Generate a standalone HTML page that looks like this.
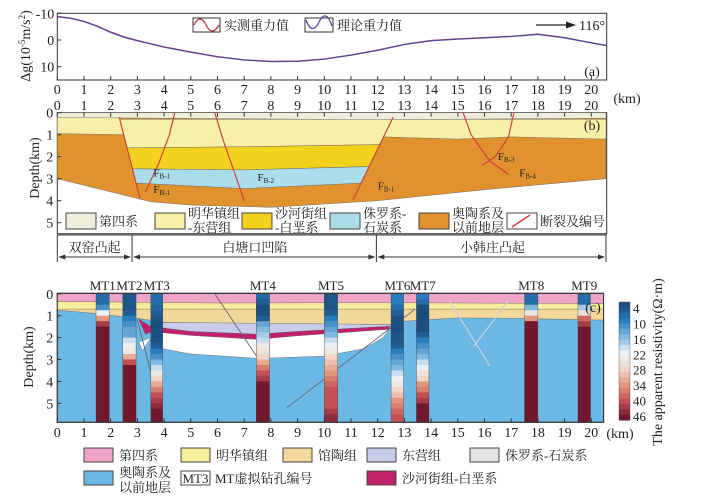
<!DOCTYPE html>
<html><head><meta charset="utf-8"><style>
body{margin:0;background:#fff;width:716px;height:496px;overflow:hidden}
svg{display:block}
text{font-family:"Liberation Serif","Noto Serif CJK SC",serif;fill:#222}
</style></head><body>
<svg id="fig" width="716" height="496" viewBox="0 0 716 496" xmlns="http://www.w3.org/2000/svg"></svg>
<script>
// ---- data ----
const gravKm = [0,0.5,1,1.5,2,2.5,3,4,5,6,7,8,9,10,11,12,13,14,15,16,17,18,19,20,20.55];
const gravObs = [-8.8,-8.2,-7,-5.2,-3,-1.2,0.2,2.6,4.5,6.2,7.4,8,7.9,7.1,5.6,3.8,1.6,0.2,-0.4,-0.9,-1.4,-2.2,-0.9,1,2];
const gravCalc = [-8.7,-8.1,-6.9,-5.1,-2.8,-1,0.3,2.7,4.6,6.3,7.5,8.1,8,7.2,5.7,3.9,1.7,0.3,-0.3,-0.8,-1.3,-2.1,-0.8,1.1,2.1];
const gravTicks = [-10,0,10];
const kmTicks = [0,1,2,3,4,5,6,7,8,9,10,11,12,13,14,15,16,17,18,19,20];
const depthTicks = [0,1,2,3,4,5];
const mtNames = ["MT1","MT2","MT3","MT4","MT5","MT6","MT7","MT8","MT9"];
const mtStart = [1.45,2.45,3.5,7.45,10.0,12.5,13.45,17.5,19.5];
const mtEnd = [1.95,2.95,3.95,7.95,10.5,12.97,13.92,18.0,19.97];
const mtDepths = [0,0.25,0.5,0.75,1,1.25,1.5,1.75,2,2.25,2.5,2.75,3,3.25,3.5,3.75,4,4.25,4.5,4.75,5,5.25,5.5];
const mtRes = [
 [8,8,12,22,34,42,46,46,46,46,46,46,46,46,46,46,46,46,46,46,46,46,46],
 [5,5,5,6,10,12,14,14,20,22,24,32,40,46,46,46,46,46,46,46,46,46,46],
 [8,8,7,6,5,4,4,4,5,6,10,12,16,20,24,28,32,36,40,42,44,46,46],
 [8,6,4,4,6,14,16,18,20,24,26,28,32,36,40,42,46,46,46,46,46,46,46],
 [5,5,5,6,10,12,14,16,20,22,24,28,30,32,34,36,38,40,40,40,40,42,44],
 [10,10,8,6,4,4,4,5,5,6,10,12,14,16,20,22,24,28,30,34,36,38,40],
 [10,8,4,4,4,4,4,6,10,12,14,16,20,22,26,28,34,36,40,42,46,46,46],
 [8,8,16,24,34,46,46,46,46,46,46,46,46,46,46,46,46,46,46,46,46,46,46],
 [8,8,18,26,38,42,46,46,46,46,46,46,46,46,46,46,46,46,46,46,46,46,46]
];
const cbTicks = [4,10,16,22,28,34,40,46];
// ---- scales ----
const X0=57.3, KM=26.7;
const xs = k => X0 + k*KM;
const ya = v => 40 + v*2.67;
const yb = d => 112.7 + d*22;
const yc = d => 293.8 + d*21.9;
const svg = document.getElementById('fig');
const NS='http://www.w3.org/2000/svg';
function mk(tag, attrs, parent){const e=document.createElementNS(NS,tag);for(const k in attrs)e.setAttribute(k,attrs[k]);(parent||svg).appendChild(e);return e;}
function txt(x,y,s,size,anchor,fill,parent){const t=mk('text',{x:x,y:y,'font-size':size||13,'text-anchor':anchor||'middle'},parent);if(fill)t.setAttribute('fill',fill);t.textContent=s;return t;}
function poly(pts,ys,fill,name){const p=mk('polygon',{points:pts.map(q=>xs(q[0]).toFixed(1)+','+ys(q[1]).toFixed(1)).join(' '),fill:fill,stroke:'#555','stroke-width':0.4});

return p;}
function cmap(v){const st=[[4,[28,78,128]],[10,[40,125,190]],[16,[130,185,225]],[22,[235,240,244]],[28,[240,214,200]],[34,[228,150,125]],[40,[195,80,85]],[46,[112,24,45]]];
for(let i=0;i<st.length-1;i++){if(v<=st[i+1][0]){const t=(v-st[i][0])/(st[i+1][0]-st[i][0]);const a=st[i][1],b=st[i+1][1];return 'rgb('+a.map((c,j)=>Math.round(c+(b[j]-c)*Math.max(0,t))).join(',')+')';}}return 'rgb(112,24,45)';}

// ===== Panel (a) =====
const ga = mk('g',{});  
mk('rect',{x:X0,y:13.3,width:606.7-X0,height:80-13.3,fill:'#fff',stroke:'#333','stroke-width':1},ga);
function gline(arr,color,name){const l=mk('polyline',{points:gravKm.map((k,i)=>xs(k).toFixed(1)+','+ya(arr[i]).toFixed(1)).join(' '),fill:'none',stroke:color,'stroke-width':1.2},ga);

}
gline(gravObs,'#c03040','observed-gravity-line');
gline(gravCalc,'#4a4aa0','theoretical-gravity-line');
gravTicks.forEach(v=>{mk('line',{x1:X0,x2:X0+4,y1:ya(v),y2:ya(v),stroke:'#333'},ga);txt(X0-3,ya(v)+5,String(v),14,'end',null,ga);});
kmTicks.forEach(k=>{mk('line',{x1:xs(k),x2:xs(k),y1:80,y2:76,stroke:'#333'},ga);txt(xs(k),94,String(k),14,'middle',null,ga);txt(xs(k),110,String(k),14,'middle',null,ga);});
txt(627,103,'(km)',14,'middle');
const yt=txt(0,0,'',14,'middle');yt.setAttribute('transform','translate(30,46) rotate(-90)');yt.innerHTML='Δg(10<tspan font-size="9" dy="-5">-5</tspan><tspan dy="5">m/s</tspan><tspan font-size="9" dy="-5">2</tspan><tspan dy="5">)</tspan>';

txt(592,76,'(a)',14,'middle');
// legend a
mk('rect',{x:193,y:18,width:27,height:14,fill:'#fff',stroke:'#333'});
mk('path',{d:'M194 25 Q200 13 206 25 T219 25',fill:'none',stroke:'#c03040','stroke-width':1.3});
txt(224,30,'实测重力值',13,'start');
mk('rect',{x:305,y:18,width:28,height:14,fill:'#fff',stroke:'#333'});
mk('path',{d:'M306 20 Q312 36 319 22 T332 26',fill:'none',stroke:'#4a4aa0','stroke-width':1.3});
txt(337,30,'理论重力值',13,'start');
mk('line',{x1:536,x2:566,y1:25,y2:25,stroke:'#222','stroke-width':1.2});
mk('polygon',{points:'566,21.5 576,25 566,28.5',fill:'#222'});
txt(579,30,'116°',14,'start');

// ===== Panel (b) =====
const XR=20.55;
mk('rect',{x:X0,y:112.7,width:606.7-X0,height:121,fill:'#fff',stroke:'#333'});
const lf=d=>2.32+(d-0.2)*(3.09-2.32)/3.66;
const rf=d=>12.58+(d-0.2)*(11.16-12.58)/3.55;
poly([[0,0],[XR,0],[XR,3.0],[16,3.5],[12,4.0],[8,4.3],[5,4.2],[3.5,4.05],[0,3.0]],yb,'#e0922e','ordovician-layer');
poly([[0,0.2],[lf(0.2),0.2],[lf(1.0),1.0],[0,0.95]],yb,'#f8f0a8','minghua-left');
poly([[lf(0.3),0.3],[rf(0.3),0.3],[rf(1.45),1.45],[7,1.55],[lf(1.6),1.6]],yb,'#f8f0a8','minghua-basin');
poly([[lf(1.6),1.6],[7,1.55],[rf(1.45),1.45],[rf(2.45),2.45],[7,2.6],[lf(2.55),2.55]],yb,'#f3d21e','shahejie-basin');
poly([[lf(2.55),2.55],[7,2.6],[rf(2.45),2.45],[rf(3.2),3.2],[7,3.45],[lf(3.2),3.2]],yb,'#aadcea','jurassic-basin');
poly([[rf(0.3),0.3],[XR,0.3],[XR,1.2],[17,1.1],[15,1.2],[rf(1.1),1.1]],yb,'#f8f0a8','minghua-right');
poly([[0,0],[XR,0],[XR,0.25],[12,0.32],[0,0.22]],yb,'#efeedc','quaternary-b');
function fline(pts,name){const p=mk('path',{d:'M'+pts.map(q=>xs(q[0]).toFixed(1)+' '+yb(q[1]).toFixed(1)).join(' L'),fill:'none',stroke:'#d04040','stroke-width':1.2});

}
fline([[lf(0.2),0.2],[lf(3.9),3.9]],'fault-left');
fline([[rf(0.2),0.2],[rf(3.95),3.95]],'fault-right');
fline([[4.4,0],[4.2,1],[3.8,2.3],[3.3,3.6]],'fault-fb1');
fline([[5.9,0],[6.2,1.2],[6.6,2.6],[7.0,4.0]],'fault-fb2');
fline([[15.2,0],[15.5,1],[16.2,2.2],[16.9,2.8]],'fault-fb4');
fline([[17.1,0],[16.9,1.1],[16.4,2.0],[15.9,2.4]],'fault-fb3');
[[3.6,2.9,'F','B-1'],[3.6,3.65,'F','B-1'],[7.5,3.1,'F','B-2'],[12.0,3.5,'F','B-1'],[16.5,2.15,'F','B-3'],[17.3,2.9,'F','B-4']].forEach(a=>{const t=txt(xs(a[0]),yb(a[1]),'',11,'start','#d06060');t.innerHTML=a[2]+'<tspan font-size="7" dy="2">'+a[3]+'</tspan>';});
depthTicks.forEach(d=>{mk('line',{x1:X0,x2:X0+4,y1:yb(d),y2:yb(d),stroke:'#333'});txt(X0-4,yb(d)+5,String(d),14,'end');});
kmTicks.forEach(k=>mk('line',{x1:xs(k),x2:xs(k),y1:112.7,y2:116.7,stroke:'#333'}));
const db=txt(0,0,'Depth(km)',14,'middle');db.setAttribute('transform','translate(39,168) rotate(-90)');
txt(592,130,'(b)',14,'middle');
// legend b
const legB=[[66,'#efeedc',['第四系']],[155,'#f8f0a8',['明华镇组','-东营组']],[242,'#f3d21e',['沙河街组','-白垩系']],[330,'#aadcea',['侏罗系-','石炭系']],[419,'#e0922e',['奥陶系及','以前地层']],[507,'#fff',['断裂及编号']]];
legB.forEach((l,i)=>{mk('rect',{x:l[0],y:213,width:30,height:16,fill:l[1],stroke:'#444'});
 if(l[2].length==1)txt(l[0]+33,226,l[2][0],13,'start');else{txt(l[0]+33,218,l[2][0],13,'start');txt(l[0]+33,232,l[2][1],13,'start');}});
mk('line',{x1:512,y1:227,x2:530,y2:215,stroke:'#d04040','stroke-width':1.5});
// brackets
mk('line',{x1:X0,x2:606.7,y1:235,y2:235,stroke:'#333'});
[0,2.8,11.95,20.55].forEach(k=>mk('line',{x1:xs(k),x2:xs(k),y1:235,y2:262,stroke:'#333'}));
[[0,2.8],[2.8,11.95],[11.95,20.55]].forEach(s=>{mk('line',{x1:xs(s[0])+2,x2:xs(s[1])-2,y1:257,y2:257,stroke:'#333'});
 mk('polygon',{points:`${xs(s[0])+1},257 ${xs(s[0])+8},254.5 ${xs(s[0])+8},259.5`,fill:'#333'});
 mk('polygon',{points:`${xs(s[1])-1},257 ${xs(s[1])-8},254.5 ${xs(s[1])-8},259.5`,fill:'#333'});});
txt(xs(1.4),252,'双窑凸起',13);txt(xs(7.4),252,'白塘口凹陷',13);txt(xs(16.3),252,'小韩庄凸起',13);

// ===== Panel (c) =====
const CR=20.46;
mk('rect',{x:X0,y:293.3,width:xs(CR)-X0,height:129,fill:'#6cb8e4',stroke:'#333'});
poly([[0,0],[CR,0],[CR,1.2],[17,1.12],[15,1.1],[13,1.25],[12.5,1.4],[8,1.4],[4,1.3],[3,1.12],[1,0.85],[0,0.75]],yc,'#f2d89a','guantao');
poly([[0,0],[CR,0],[CR,0.7],[0,0.7]],yc,'#f6ee9c','minghua-c');
poly([[0,0],[CR,0],[CR,0.45],[12,0.4],[6,0.42],[0,0.35]],yc,'#f0a4c8','quaternary-c');
poly([[3.5,1.65],[3.7,2.2],[3.9,2.5],[5,2.75],[7.5,2.95],[10,2.85],[11.5,2.5],[12.2,2.0],[12.45,1.6],[9,1.8],[7.5,1.95],[5,1.8]],yc,'#ffffff','jurassic-c');
poly([[3.5,1.3],[12.5,1.4],[12.45,1.5],[9,1.72],[7.5,1.85],[5,1.72],[3.5,1.5]],yc,'#c8cce8','dongying-c');
poly([[3.5,1.5],[5,1.72],[7.5,1.85],[9,1.72],[12.45,1.48],[12.4,1.62],[9,1.92],[7.5,2.08],[5,1.9],[3.5,1.72]],yc,'#c2206c','shahejie-c');
poly([[3.05,1.15],[3.5,1.5],[3.5,1.75],[3.3,1.85]],yc,'#c2206c','shahejie-wedge');
poly([[3.05,2.2],[3.5,2.0],[3.2,2.6]],yc,'#ffffff','jurassic-wedge');
[[[5.9,0],[7.6,3.1]],[[8.6,5.2],[13.4,0.7]],[[3.0,1.2],[3.7,4.5]]].forEach(s=>mk('line',{x1:xs(s[0][0]),y1:yc(s[0][1]),x2:xs(s[1][0]),y2:yc(s[1][1]),stroke:'#667','stroke-width':0.9}));
[[[14.7,0.35],[16.2,3.3]],[[15.6,2.4],[16.9,0.3]]].forEach(s=>mk('line',{x1:xs(s[0][0]),y1:yc(s[0][1]),x2:xs(s[1][0]),y2:yc(s[1][1]),stroke:'#c8d0e4','stroke-width':1.2}));
// MT columns
mtNames.forEach((n,i)=>{const g=mk('g',{});
 mtDepths.forEach((d,j)=>{const d2=j<mtDepths.length-1?mtDepths[j+1]:5.85;
  mk('rect',{x:xs(mtStart[i]),y:yc(d),width:xs(mtEnd[i])-xs(mtStart[i]),height:yc(d2)-yc(d)+0.5,fill:cmap(mtRes[i][j])},g);});
 mk('rect',{x:xs(mtStart[i]),y:yc(0),width:xs(mtEnd[i])-xs(mtStart[i]),height:yc(5.85)-yc(0),fill:'none',stroke:'#444','stroke-width':0.4},g);
 txt((xs(mtStart[i])+xs(mtEnd[i]))/2,290,n,13,'middle',null,g);});
mk('rect',{x:X0,y:293.3,width:xs(CR)-X0,height:129,fill:'none',stroke:'#333'});
depthTicks.forEach(d=>{mk('line',{x1:X0,x2:X0+4,y1:yc(d),y2:yc(d),stroke:'#333'});txt(X0-4,yc(d)+5,String(d),14,'end');});
kmTicks.forEach(k=>{mk('line',{x1:xs(k),x2:xs(k),y1:422.3,y2:418.3,stroke:'#333'});txt(xs(k),437,String(k),14);});
txt(620,438,'(km)',14);
const dc=txt(0,0,'Depth(km)',14,'middle');dc.setAttribute('transform','translate(33,357) rotate(-90)');
txt(593,312,'(c)',14);
// colorbar
const cb=mk('g',{});
for(let v=4;v<=46;v+=2){const y0=302+(v-4)/44*118;mk('rect',{x:619,y:y0,width:11,height:118/22+0.5,fill:cmap(v)},cb);}
mk('rect',{x:619,y:302,width:11,height:118,fill:'none',stroke:'#444','stroke-width':0.4},cb);
cbTicks.forEach(v=>txt(633,308+(v-4)/42*108+5,String(v),13,'start',null,cb));
const ct=txt(0,0,'The apparent resistivity(Ω·m)',14,'middle');ct.setAttribute('transform','translate(662,362) rotate(-90)');
// legend c
const legC=[[84,448,'#f0a4c8','第四系'],[181,448,'#f6ee9c','明华镇组'],[283,448,'#f2d89a','馆陶组'],[367,448,'#c8cce8','东营组'],[470,448,'#e4e4e6','侏罗系-石炭系'],[367,471,'#c2206c','沙河街组-白垩系']];
legC.forEach(l=>{mk('rect',{x:l[0],y:l[1],width:29,height:14,fill:l[2],stroke:'#444'});txt(l[0]+35,l[1]+12,l[3],13,'start');});
mk('rect',{x:84,y:471,width:29,height:14,fill:'#6cb8e4',stroke:'#444'});
txt(119,477,'奥陶系及',13,'start');txt(119,492,'以前地层',13,'start');
mk('rect',{x:181,y:471,width:29,height:14,fill:'#fff',stroke:'#444'});
txt(195.5,483,'MT3',13,'middle','#d03030');
txt(215,483,'MT虚拟钻孔编号',13,'start');
</script>
</body></html>
